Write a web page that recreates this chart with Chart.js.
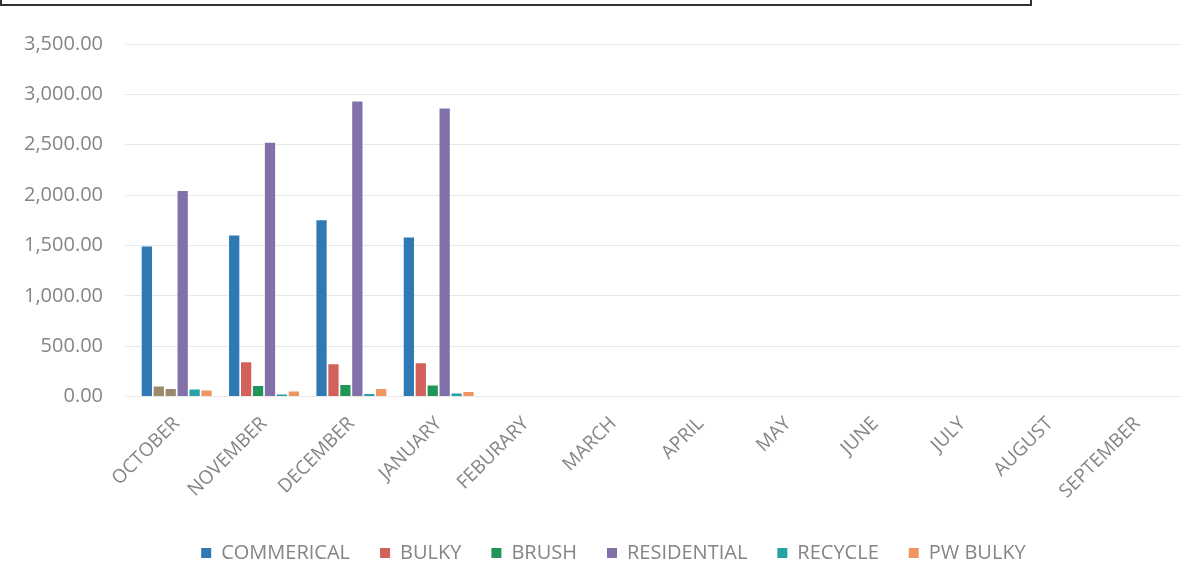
<!DOCTYPE html>
<html>
<head>
<meta charset="utf-8">
<script src="https://cdn.jsdelivr.net/npm/chart.js@4"></script>
<style>
  html, body { margin: 0; padding: 0; background: #fff; }
  #wrap { position: relative; width: 1201px; height: 587px; overflow: hidden; }
  #topbox { position: absolute; left: 0; top: -20px; width: 1028px; height: 22px; border: 2px solid #333; }
  #chart { position: absolute; left: 0; top: 0; }
</style>
</head>
<body>
<div id="wrap">
  <div id="topbox"></div>
  <canvas id="chart" width="1201" height="587"></canvas>
</div>
<script>
// months (fiscal year)
var months = ['OCTOBER', 'NOVEMBER', 'DECEMBER', 'JANUARY', 'FEBURARY', 'MARCH', 'APRIL', 'MAY', 'JUNE', 'JULY', 'AUGUST', 'SEPTEMBER'];

// tonnage per series, only first four months filled in
var commerical  = [1490, 1600, 1750, 1580, null, null, null, null, null, null, null, null];
var bulky       = [100, 340, 320, 330, null, null, null, null, null, null, null, null];
var brush       = [75, 105, 115, 110, null, null, null, null, null, null, null, null];
var residential = [2040, 2520, 2930, 2860, null, null, null, null, null, null, null, null];
var recycle     = [70, 20, 25, 30, null, null, null, null, null, null, null, null];
var pwBulky     = [60, 50, 75, 45, null, null, null, null, null, null, null, null];

var grey = '#858585';
var font = "'Open Sans', 'Liberation Sans', sans-serif";

// october bulky / brush came out brownish in the original
var brown = '#9c8a6c';
function cols(main, first) {
  return months.map(function (m, i) { return i === 0 && first ? first : main; });
}

// legend sits a bit right of centre in the original
var nudgeLegend = {
  id: 'nudgeLegend',
  afterLayout: function (c) {
    c.legend.left += 22;
    c.legend.right += 22;
  }
};

var ctx = document.getElementById('chart').getContext('2d');
var chart = new Chart(ctx, {
  type: 'bar',
  data: {
    labels: months,
    datasets: [
      { label: 'COMMERICAL', data: commerical, backgroundColor: '#2f7ab4', key: '#2f7ab4' },
      { label: 'BULKY', data: bulky, backgroundColor: cols('#d2605b', brown), key: '#d2605b' },
      { label: 'BRUSH', data: brush, backgroundColor: cols('#1f9657', brown), key: '#1f9657' },
      { label: 'RESIDENTIAL', data: residential, backgroundColor: '#8270a8', key: '#8270a8' },
      { label: 'RECYCLE', data: recycle, backgroundColor: '#27a0a6', key: '#27a0a6' },
      { label: 'PW BULKY', data: pwBulky, backgroundColor: '#ef9560', key: '#ef9560' }
    ]
  },
  plugins: [nudgeLegend],
  options: {
    responsive: false,
    animation: false,
    layout: { padding: { top: 44, right: 20, left: 2, bottom: 14 } },
    datasets: { bar: { categoryPercentage: 0.82, barPercentage: 0.86 } },
    plugins: {
      legend: {
        position: 'bottom',
        labels: {
          boxWidth: 10, boxHeight: 10, padding: 30,
          color: grey,
          font: { family: font, size: 20 },
          generateLabels: function (c) {
            return c.data.datasets.map(function (d, i) {
              return { text: d.label, fillStyle: d.key, strokeStyle: d.key, lineWidth: 0,
                       fontColor: grey, datasetIndex: i };
            });
          }
        }
      },
      tooltip: { enabled: false }
    },
    scales: {
      x: {
        grid: { display: false },
        border: { display: false },
        afterFit: function (s) { s.height += 2; },
        ticks: {
          color: grey, minRotation: 45, maxRotation: 45, padding: 8,
          font: { family: font, size: 19 }
        }
      },
      y: {
        min: 0, max: 3500,
        grid: { color: '#e8e8e8' },
        border: { display: false },
        ticks: {
          stepSize: 500, padding: 22,
          color: grey,
          font: { family: font, size: 20 },
          callback: function (v) {
            return v.toLocaleString('en-US', { minimumFractionDigits: 2, maximumFractionDigits: 2 });
          }
        }
      }
    }
  }
});
</script>
</body>
</html>
